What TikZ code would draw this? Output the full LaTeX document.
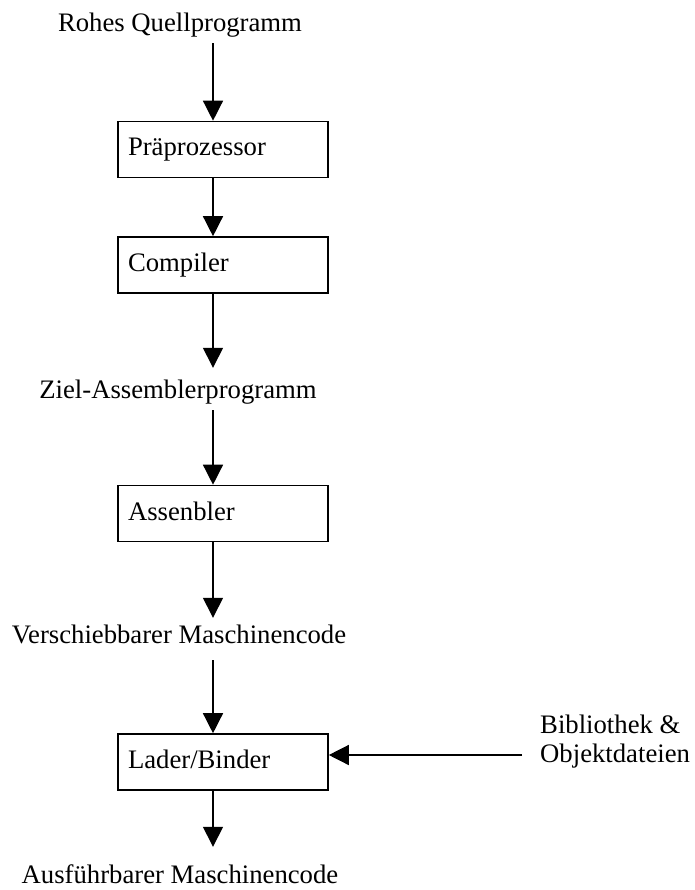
\documentclass[tikz,border=0pt]{standalone}
\usepackage{fontspec}
\setmainfont{Liberation Serif}
\usetikzlibrary{arrows.meta,positioning}
\tikzset{
  ar/.style={-{Triangle[length=20pt,width=20pt]},line width=1.4pt},
  box/.style={draw,line width=1.6pt,minimum height=56pt,text width=190pt,inner xsep=10pt,inner ysep=0pt,align=left,text height=19pt,text depth=6pt},
  lbl/.style={inner sep=0pt,text height=19pt,text depth=6pt}
}
\begin{document}
\begin{tikzpicture}[x=1pt,y=-1pt,font=\fontsize{26.7}{29}\selectfont]
\useasboundingbox (0,0) rectangle (694,890);
\coordinate (ax) at (213,0);
% Zwischenstufen und Werkzeuge
\node[lbl,anchor=base] (src) at (180,32) {Rohes Quellprogramm};
\node[box] (pre) at (223,149.5) {Präprozessor};
\node[box] (comp) at (223,265) {Compiler};
\node[lbl,anchor=base] (ziel) at (178,398) {Ziel-Assemblerprogramm};
\node[box] (asm) at (223,513.5) {Assenbler};
\node[lbl,anchor=base] (vers) at (179,643) {Verschiebbarer Maschinencode};
\node[box] (lad) at (223,762) {Lader/Binder};
\node[lbl,anchor=base] (aus) at (180,883) {Ausführbarer Maschinencode};
\node[inner sep=0pt,align=left,anchor=base west] (lib) at (540,762) {Bibliothek \&\\Objektdateien};
% Pfeile
\draw[ar,shorten <=5pt] (src.south -| ax) -- (pre.north -| ax);
\draw[ar] (pre.south -| ax) -- (comp.north -| ax);
\draw[ar,shorten >=11pt] (comp.south -| ax) -- (ziel.north -| ax);
\draw[ar,shorten <=6pt] (ziel.south -| ax) -- (asm.north -| ax);
\draw[ar,shorten >=6pt] (asm.south -| ax) -- (vers.north -| ax);
\draw[ar,shorten <=11pt] (vers.south -| ax) -- (lad.north -| ax);
\draw[ar,shorten >=17pt] (lad.south -| ax) -- (aus.north -| ax);
\coordinate (inp) at ([yshift=7pt]lad.east);
\draw[ar,shorten <=18pt] (lib.west |- inp) -- (inp);
\end{tikzpicture}
\end{document}
